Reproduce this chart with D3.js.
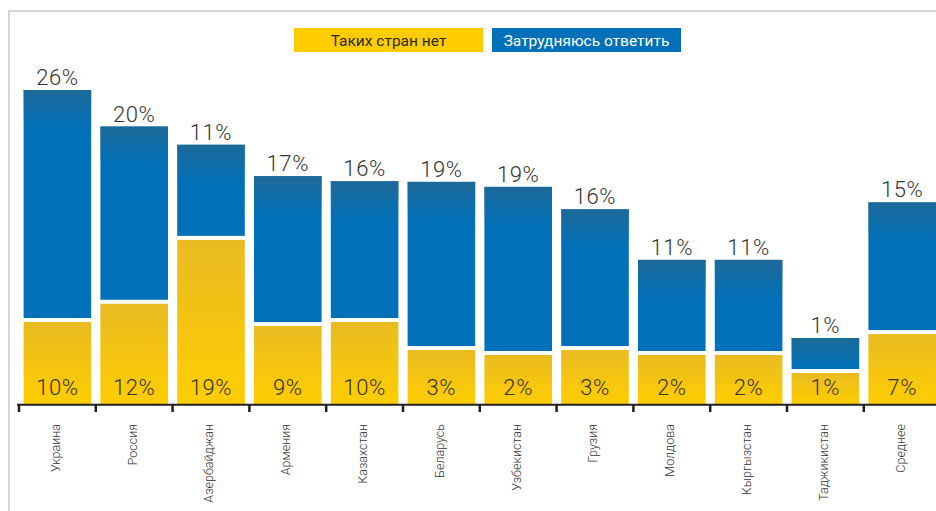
<!DOCTYPE html>
<html><head><meta charset="utf-8">
<script src="https://cdn.jsdelivr.net/npm/d3@7"></script>
<style>html,body{margin:0;padding:0;background:#fff;}svg{display:block;}</style>
</head><body>
<svg id="chart" width="936" height="511"></svg>
<script>
const categories = ["Украина","Россия","Азербайджан","Армения","Казахстан","Беларусь","Узбекистан","Грузия","Молдова","Кыргызстан","Таджикистан","Среднее"];
const noCountries = [10,12,19,9,10,3,2,3,2,2,1,7];       // Таких стран нет
const hardToSay   = [26,20,11,17,16,19,19,16,11,11,1,15]; // Затрудняюсь ответить
const seriesNames = ["Таких стран нет","Затрудняюсь ответить"];

const svg = d3.select("#chart");
const W = 936, H = 511;
const baseY = 404;
const yellow = "#FFCC00", blue = "#0071B9";

// frame
svg.append("line").attr("x1",9).attr("x2",W).attr("y1",11).attr("y2",11).attr("stroke","#d6d6d6").attr("stroke-width",2);
svg.append("line").attr("x1",9).attr("x2",9).attr("y1",10).attr("y2",H).attr("stroke","#d6d6d6").attr("stroke-width",2);

const defs = svg.append("defs");
const gy = defs.append("linearGradient").attr("id","gY").attr("x1",0).attr("x2",0).attr("y1",0).attr("y2",1);
gy.append("stop").attr("offset","0%").attr("stop-color","#E9BB22");
gy.append("stop").attr("offset","100%").attr("stop-color","#FFCD00");
const gb = defs.append("linearGradient").attr("id","gB").attr("x1",0).attr("x2",0).attr("y1",0).attr("y2",1);
gb.append("stop").attr("offset","0%").attr("stop-color","#226892").attr("stop-opacity",0.85);
gb.append("stop").attr("offset","100%").attr("stop-color","#226892").attr("stop-opacity",0);

const x = d3.scaleBand().domain(categories).range([19, 19 + 12*76.8]).paddingInner(0.12).paddingOuter(0.06);
// segment height scale (small segments enlarged so labels fit, as in the original)
const h = d3.scaleLinear().domain([0,1,2,3,10,26]).range([0,31,49,54,82,228]);
const gap = 4;

const data = categories.map((c,i)=>({c, a:noCountries[i], b:hardToSay[i]}));
const g = svg.append("g");
data.forEach(d=>{
  const x0 = x(d.c), bw = x.bandwidth();
  const hy = h(d.a), hb = h(d.b);
  const yTop = baseY - hy;
  const bBottom = yTop - gap, bTop = bBottom - hb;
  g.append("rect").attr("x",x0).attr("y",yTop).attr("width",bw).attr("height",hy).attr("fill","url(#gY)");
  g.append("rect").attr("x",x0).attr("y",bTop).attr("width",bw).attr("height",hb).attr("fill",blue);
  g.append("rect").attr("x",x0).attr("y",bTop).attr("width",bw).attr("height",Math.min(40,hb)).attr("fill","url(#gB)");
  g.append("text").attr("x",x0+bw/2).attr("y",395).attr("text-anchor","middle")
    .attr("font-family","Roboto").attr("font-weight",300).attr("font-size",22).attr("letter-spacing",0.6).attr("fill","#333").text(d.a+"%");
  g.append("text").attr("x",x0+bw/2).attr("y",bTop-5).attr("text-anchor","middle")
    .attr("font-family","Roboto").attr("font-weight",300).attr("font-size",22).attr("letter-spacing",0.6).attr("fill","#333").text(d.b+"%");
});

// axis
svg.append("line").attr("x1",17).attr("x2",W).attr("y1",404.8).attr("y2",404.8).attr("stroke","#231f20").attr("stroke-width",2);
const step = x.step();
d3.range(categories.length).forEach(k=>{
  const tx = 19 + k*step;
  svg.append("line").attr("x1",tx).attr("x2",tx).attr("y1",404).attr("y2",412).attr("stroke","#231f20").attr("stroke-width",2.5);
});
categories.forEach(c=>{
  const cx = x(c) + x.bandwidth()/2 - 2;
  svg.append("text").attr("transform",`translate(${cx},424) rotate(-90)`)
    .attr("text-anchor","end").attr("dy","0.35em")
    .attr("font-family","Roboto").attr("font-weight",300).attr("font-size",12.5).attr("fill","#333").text(c);
});

// legend
const leg = [{n:seriesNames[0], x:294, w:189, fill:yellow, tc:"#2b2b2b"},{n:seriesNames[1], x:492, w:189, fill:blue, tc:"#fff"}];
leg.forEach(l=>{
  svg.append("rect").attr("x",l.x).attr("y",28).attr("width",l.w).attr("height",24).attr("fill",l.fill);
  svg.append("text").attr("x",l.x+l.w/2).attr("y",46).attr("text-anchor","middle")
    .attr("font-family","Roboto").attr("font-size",15.5).attr("fill",l.tc).text(l.n);
});
</script>
</body></html>
